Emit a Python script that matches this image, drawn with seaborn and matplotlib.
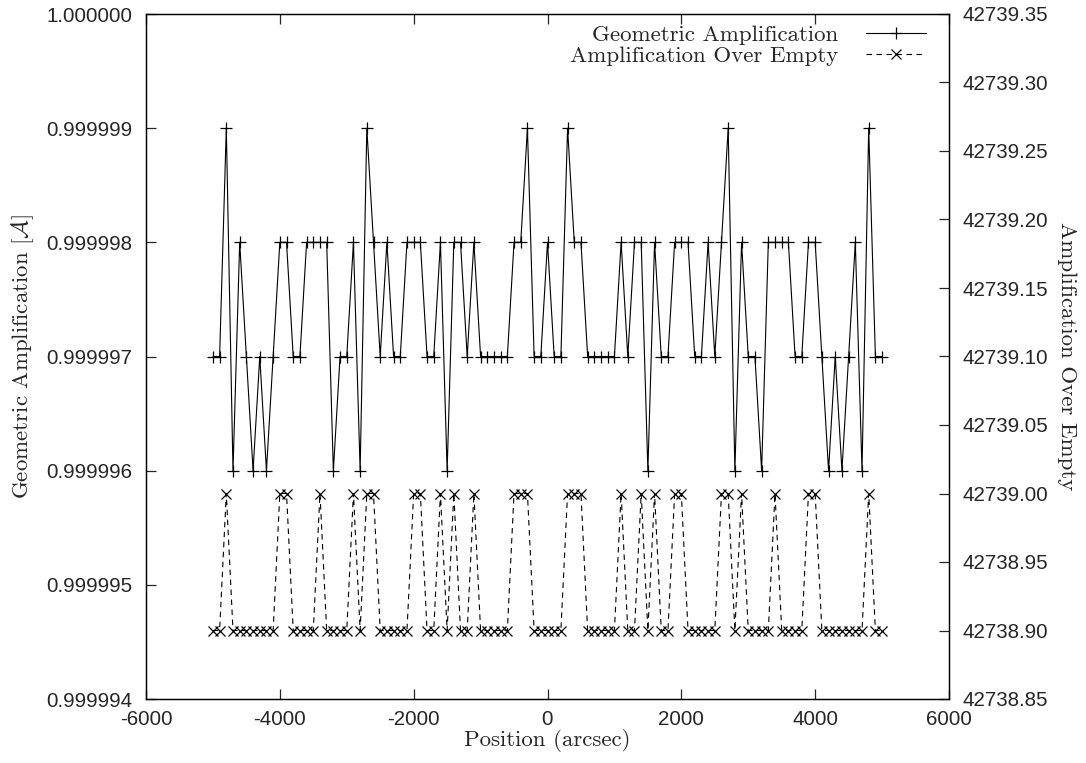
import numpy as np
import pandas as pd
import matplotlib
matplotlib.use("Agg")
import matplotlib.pyplot as plt
from matplotlib.ticker import FormatStrFormatter, MultipleLocator
import seaborn as sns

# Sample positions along the scan (arcsec)
positions = [
    -5000, -4900, -4800, -4700, -4600, -4500, -4400, -4300, -4200, -4100,
    -4000, -3900, -3800, -3700, -3600, -3500, -3400, -3300, -3200, -3100,
    -3000, -2900, -2800, -2700, -2600, -2500, -2400, -2300, -2200, -2100,
    -2000, -1900, -1800, -1700, -1600, -1500, -1400, -1300, -1200, -1100,
    -1000, -900, -800, -700, -600, -500, -400, -300, -200, -100,
    0, 100, 200, 300, 400, 500, 600, 700, 800, 900,
    1000, 1100, 1200, 1300, 1400, 1500, 1600, 1700, 1800, 1900,
    2000, 2100, 2200, 2300, 2400, 2500, 2600, 2700, 2800, 2900,
    3000, 3100, 3200, 3300, 3400, 3500, 3600, 3700, 3800, 3900,
    4000, 4100, 4200, 4300, 4400, 4500, 4600, 4700, 4800, 4900,
    5000,
]

# Geometric amplification A at each position
geometric_amp = [
    0.999997, 0.999997, 0.999999, 0.999996, 0.999998, 0.999997, 0.999996, 0.999997, 0.999996, 0.999997,
    0.999998, 0.999998, 0.999997, 0.999997, 0.999998, 0.999998, 0.999998, 0.999998, 0.999996, 0.999997,
    0.999997, 0.999998, 0.999996, 0.999999, 0.999998, 0.999997, 0.999998, 0.999997, 0.999997, 0.999998,
    0.999998, 0.999998, 0.999997, 0.999997, 0.999998, 0.999996, 0.999998, 0.999998, 0.999997, 0.999998,
    0.999997, 0.999997, 0.999997, 0.999997, 0.999997, 0.999998, 0.999998, 0.999999, 0.999997, 0.999997,
    0.999998, 0.999997, 0.999997, 0.999999, 0.999998, 0.999998, 0.999997, 0.999997, 0.999997, 0.999997,
    0.999997, 0.999998, 0.999997, 0.999998, 0.999998, 0.999996, 0.999998, 0.999997, 0.999997, 0.999998,
    0.999998, 0.999998, 0.999997, 0.999997, 0.999998, 0.999997, 0.999998, 0.999999, 0.999996, 0.999998,
    0.999997, 0.999997, 0.999996, 0.999998, 0.999998, 0.999998, 0.999998, 0.999997, 0.999997, 0.999998,
    0.999998, 0.999997, 0.999996, 0.999997, 0.999996, 0.999997, 0.999998, 0.999996, 0.999999, 0.999997,
    0.999997,
]

# Amplification relative to an empty beam
empty_amp = [
    42738.90, 42738.90, 42739.00, 42738.90, 42738.90, 42738.90, 42738.90, 42738.90, 42738.90, 42738.90,
    42739.00, 42739.00, 42738.90, 42738.90, 42738.90, 42738.90, 42739.00, 42738.90, 42738.90, 42738.90,
    42738.90, 42739.00, 42738.90, 42739.00, 42739.00, 42738.90, 42738.90, 42738.90, 42738.90, 42738.90,
    42739.00, 42739.00, 42738.90, 42738.90, 42739.00, 42738.90, 42739.00, 42738.90, 42738.90, 42739.00,
    42738.90, 42738.90, 42738.90, 42738.90, 42738.90, 42739.00, 42739.00, 42739.00, 42738.90, 42738.90,
    42738.90, 42738.90, 42738.90, 42739.00, 42739.00, 42739.00, 42738.90, 42738.90, 42738.90, 42738.90,
    42738.90, 42739.00, 42738.90, 42738.90, 42739.00, 42738.90, 42739.00, 42738.90, 42738.90, 42739.00,
    42739.00, 42738.90, 42738.90, 42738.90, 42738.90, 42738.90, 42739.00, 42739.00, 42738.90, 42739.00,
    42738.90, 42738.90, 42738.90, 42738.90, 42739.00, 42738.90, 42738.90, 42738.90, 42738.90, 42739.00,
    42739.00, 42738.90, 42738.90, 42738.90, 42738.90, 42738.90, 42738.90, 42738.90, 42739.00, 42738.90,
    42738.90,
]

x_ticks = [-6000, -4000, -2000, 0, 2000, 4000, 6000]

sns.set_style("ticks")
plt.rcParams["font.family"] = ["Liberation Sans", "DejaVu Sans"]
plt.rcParams["mathtext.fontset"] = "cm"
plt.rcParams["axes.unicode_minus"] = False
plt.rcParams["axes.linewidth"] = 0.9

SERIF = "cmr10"
TICK_FS = 14.8
LABEL_FS = 16.5

df = pd.DataFrame({"pos": positions, "geo": geometric_amp, "empty": empty_amp})

fig = plt.figure(figsize=(10.86, 7.63), dpi=100)
ax = fig.add_axes([146 / 1086, 64 / 763, 803 / 1086, 685 / 763])
ax2 = ax.twinx()

sns.lineplot(data=df, x="pos", y="geo", ax=ax, color="black", linewidth=0.8,
             marker="+", markersize=8, markeredgewidth=0.9,
             markeredgecolor="black",
             label="Geometric Amplification", legend=False)
sns.lineplot(data=df, x="pos", y="empty", ax=ax2, color="black", linewidth=0.8,
             linestyle=(0, (5, 4)), marker="x", markersize=7, markeredgewidth=0.9,
             markeredgecolor="black",
             label="Amplification Over Empty", legend=False)

ax.set_xlim(-6000, 6000)
ax.set_xticks(x_ticks)
ax.set_ylim(0.999994, 1.000000)
ax.yaxis.set_major_locator(MultipleLocator(1e-6))
ax.yaxis.set_major_formatter(FormatStrFormatter("%.6f"))
ax2.set_ylim(42738.85, 42739.35)
ax2.yaxis.set_major_locator(MultipleLocator(0.05))
ax2.yaxis.set_major_formatter(FormatStrFormatter("%.2f"))

ax.tick_params(axis="x", which="both", direction="in", length=7, width=0.9,
               top=True, bottom=True, labelsize=TICK_FS, pad=8)
ax.tick_params(axis="y", direction="in", length=7, width=0.9, left=True,
               right=False, labelsize=TICK_FS, pad=10)
ax2.tick_params(axis="y", direction="in", length=7, width=0.9, right=True,
                left=False, labelsize=TICK_FS, pad=10)
ax2.tick_params(axis="x", top=False, bottom=False)

for a in (ax, ax2):
    for s in a.spines.values():
        s.set_visible(True)
        s.set_color("black")

ax.set_xlabel("Position (arcsec)", fontsize=LABEL_FS, family=SERIF, labelpad=0)
ax.set_ylabel(r"Geometric Amplification [$\mathcal{A}$]", fontsize=LABEL_FS,
              family=SERIF, labelpad=7)
ax2.set_ylabel("Amplification Over Empty", fontsize=LABEL_FS, family=SERIF,
               rotation=-90, labelpad=6, va="bottom")

handles = ax.get_lines()[:1] + ax2.get_lines()[:1]
labels = ["Geometric Amplification", "Amplification Over Empty"]
leg = ax2.legend(handles, labels, loc="upper right",
                 bbox_to_anchor=(1 - 12 / 803, 1.0), frameon=False,
                 markerfirst=False, numpoints=1, handlelength=2.6,
                 handletextpad=1.2, labelspacing=0.0, borderaxespad=0.1,
                 prop={"family": SERIF, "size": LABEL_FS})

fig.savefig("out.png", dpi=100)
